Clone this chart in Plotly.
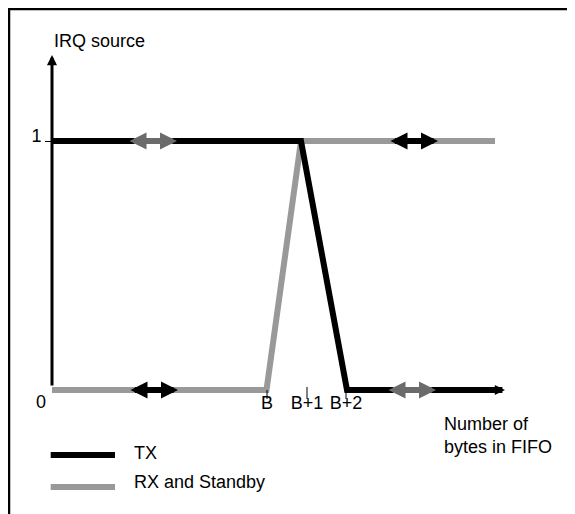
import plotly.graph_objects as go

# ---- data (schematic units: 0 = origin, 1 = IRQ asserted) ----
tx_x = [0, 24.9, 29.5, 44.3]
tx_y = [1, 1, 0, 0]
rx_x = [0, 21.45, 24.9, 44.3]
rx_y = [0, 0, 1, 1]

x_tick_vals = [21.5, 25.5, 29.4]
x_tick_text = ["B", "B+1", "B+2"]
y_tick_vals = [1]
y_tick_text = ["1"]

# double-headed arrows: (start, end, level, colour)
dbl_arrows = [
    (7.6, 12.5, 1, "#6b6b6b"),
    (33.7, 38.6, 1, "#000000"),
    (7.7, 12.6, 0, "#000000"),
    (33.5, 38.4, 0, "#6b6b6b"),
]

FONT = "Liberation Sans, Arial, sans-serif"
BLACK = "#000000"
GRAY = "#999999"
W, H = 567, 506          # page adds an 8px body margin

fig = go.Figure()
fig.add_trace(go.Scatter(x=rx_x, y=rx_y, mode="lines",
                         line=dict(color=GRAY, width=6), name="RX and Standby",
                         showlegend=False, hoverinfo="skip"))
fig.add_trace(go.Scatter(x=tx_x, y=tx_y, mode="lines",
                         line=dict(color=BLACK, width=6), name="TX",
                         showlegend=False, hoverinfo="skip"))

annotations = []
# y axis arrow
annotations.append(dict(x=0, y=1.345, ax=0, ay=0.012, xref="x", yref="y",
                        axref="x", ayref="y", text="", showarrow=True,
                        arrowhead=2, arrowsize=0.67, arrowwidth=3,
                        arrowcolor=BLACK))
# TX end arrowhead (x axis direction)
annotations.append(dict(x=tx_x[-1] + 1.0, y=tx_y[-1], ax=tx_x[-1] - 0.3, ay=tx_y[-1],
                        xref="x", yref="y", axref="x", ayref="y", text="",
                        showarrow=True, arrowhead=2, arrowsize=0.34,
                        arrowwidth=6, arrowcolor=BLACK))
for x0, x1, yv, col in dbl_arrows:
    annotations.append(dict(x=x1, y=yv, ax=x0, ay=yv,
                            xref="x", yref="y", axref="x", ayref="y", text="",
                            showarrow=True, arrowside="end+start",
                            arrowhead=2, startarrowhead=2,
                            arrowsize=0.567, startarrowsize=0.567,
                            arrowwidth=6, arrowcolor=col))

txtfont = dict(family=FONT, size=18, color=BLACK)
annotations += [
    dict(x=0, y=1.4016, xref="x", yref="y", text="IRQ source", showarrow=False,
         xanchor="left", yanchor="middle", font=txtfont),
    dict(x=0, y=0, xref="x", yref="y", text="0", showarrow=False,
         xanchor="center", yanchor="middle", xshift=-11, yshift=-11.5, font=txtfont),
    dict(x=434 / W, y=1 - 427 / H, xref="paper", yref="paper",
         text="Number of<br>bytes in FIFO", showarrow=False, align="left",
         xanchor="left", yanchor="middle", font=txtfont),
    dict(x=124 / W, y=1 - 444.5 / H, xref="paper", yref="paper", text="TX",
         showarrow=False, xanchor="left", yanchor="middle", font=txtfont),
    dict(x=124 / W, y=1 - 474 / H, xref="paper", yref="paper", text="RX and Standby",
         showarrow=False, xanchor="left", yanchor="middle", font=txtfont),
]

fx = 1 / W
fy = 1 - 1 / H
shapes = [
    dict(type="line", xref="paper", yref="paper", x0=0, x1=1, y0=fy, y1=fy,
         line=dict(color=BLACK, width=2.5)),
    dict(type="line", xref="paper", yref="paper", x0=fx, x1=fx, y0=0, y1=1,
         line=dict(color=BLACK, width=2.5)),
    # legend samples
    dict(type="line", xref="paper", yref="paper", x0=42.7 / W, x1=107 / W,
         y0=1 - 447 / H, y1=1 - 447 / H, line=dict(color=BLACK, width=6)),
    dict(type="line", xref="paper", yref="paper", x0=42.7 / W, x1=107 / W,
         y0=1 - 479 / H, y1=1 - 479 / H, line=dict(color=GRAY, width=6)),
]
# x tick marks (B+1 tick reaches slightly above the axis)
tick_up = [0, 3, 0]
for xv, up in zip(x_tick_vals, tick_up):
    shapes.append(dict(type="line", xref="x", yref="y", x0=xv, x1=xv,
                       ysizemode="pixel", yanchor=0, y0=up, y1=-9,
                       line=dict(color=BLACK, width=1)))

fig.update_layout(
    width=W, height=H, margin=dict(l=0, r=0, t=0, b=0),
    paper_bgcolor="white", plot_bgcolor="white",
    showlegend=False,
    annotations=annotations, shapes=shapes,
    xaxis=dict(range=[-4.4, 52.3], anchor="free", position=(H - 382) / H,
               showgrid=False, zeroline=False, showline=False,
               tickmode="array", tickvals=x_tick_vals, ticktext=x_tick_text,
               ticks="", tickfont=txtfont, automargin=False, fixedrange=True),
    yaxis=dict(range=[-0.498, 1 + 133 / 249], anchor="free", position=44 / W,
               showgrid=False, zeroline=False, showline=False,
               tickmode="array", tickvals=y_tick_vals, ticktext=y_tick_text,
               ticks="outside", ticklen=7, tickwidth=1, tickcolor=BLACK,
               ticklabelshift=-5,
               tickfont=txtfont, automargin=False, fixedrange=True),
)

fig.write_html("out.html")
